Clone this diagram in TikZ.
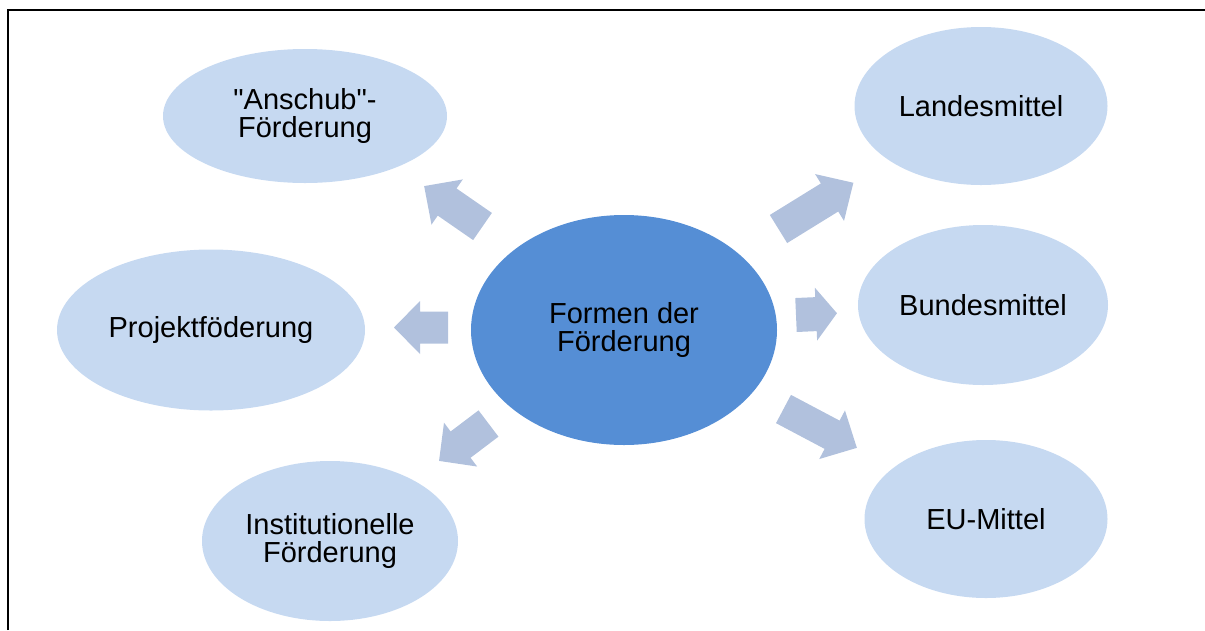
\documentclass[tikz,border=0pt]{standalone}
\usepackage{fontspec}
\newfontfamily\arialfont{Liberation Sans}
\usetikzlibrary{shapes.geometric}
\definecolor{lightell}{RGB}{198,217,241}
\definecolor{centerell}{RGB}{85,142,213}
\definecolor{blockarrow}{RGB}{177,193,221}
\tikzset{
  lightnode/.style={ellipse, fill=lightell, inner sep=0pt, align=center,
    font=\arialfont\fontsize{29}{28}\selectfont},
  centernode/.style={ellipse, fill=centerell, inner sep=0pt, align=center,
    font=\arialfont\fontsize{29}{28}\selectfont},
  blockarr/.style={fill=blockarrow},
}
% #1 tail point, #2 angle, #3 total length, #4 head length, #5 shaft half width, #6 head half width
\newcommand\myblockarrow[6]{%
  \begin{scope}[shift={#1}, rotate=#2]
    \fill[blockarr] (0,-#5) -- ({#3-#4},-#5) -- ({#3-#4},-#6) -- (#3,0)
      -- ({#3-#4},#6) -- ({#3-#4},#5) -- (0,#5) -- cycle;
  \end{scope}}
\begin{document}
\begin{tikzpicture}[x=1pt,y=-1pt]
\useasboundingbox (0,0) rectangle (1205,630);
\draw[line width=2pt] (8,630) -- (8,10) -- (1205,10);
% ellipses
\node[centernode, minimum width=306pt, minimum height=230pt] (c) at (624,330) {Formen der\\Förderung};
\node[lightnode, minimum width=284pt, minimum height=134pt] (a) at (305,116) {"Anschub"-\\Förderung};
\node[lightnode, minimum width=308pt, minimum height=161pt] (p) at (211,330) {Projektföderung};
\node[lightnode, minimum width=256pt, minimum height=160pt] (i) at (330,541) {Institutionelle\\Förderung};
\node[lightnode, minimum width=253pt, minimum height=158pt] (l) at (981,106) {Landesmittel};
\node[lightnode, minimum width=250pt, minimum height=160pt] (b) at (983,305) {Bundesmittel};
\node[lightnode, minimum width=243pt, minimum height=158pt] (e) at (986,519) {EU-Mittel};
% block arrows
\myblockarrow{(482.5,226.5)}{145.3}{71}{28}{16.5}{27.5}
\myblockarrow{(448,327.5)}{180}{54}{26}{16}{26.5}
\myblockarrow{(488.5,423.5)}{217.1}{62}{27}{16.5}{27.5}
\myblockarrow{(778.5,229)}{31.7}{88}{28}{16.5}{27.5}
\myblockarrow{(796,315)}{2.5}{41}{21}{17}{26.5}
\myblockarrow{(783.5,409)}{-27.9}{83}{28}{16}{27.5}
\end{tikzpicture}
\end{document}
